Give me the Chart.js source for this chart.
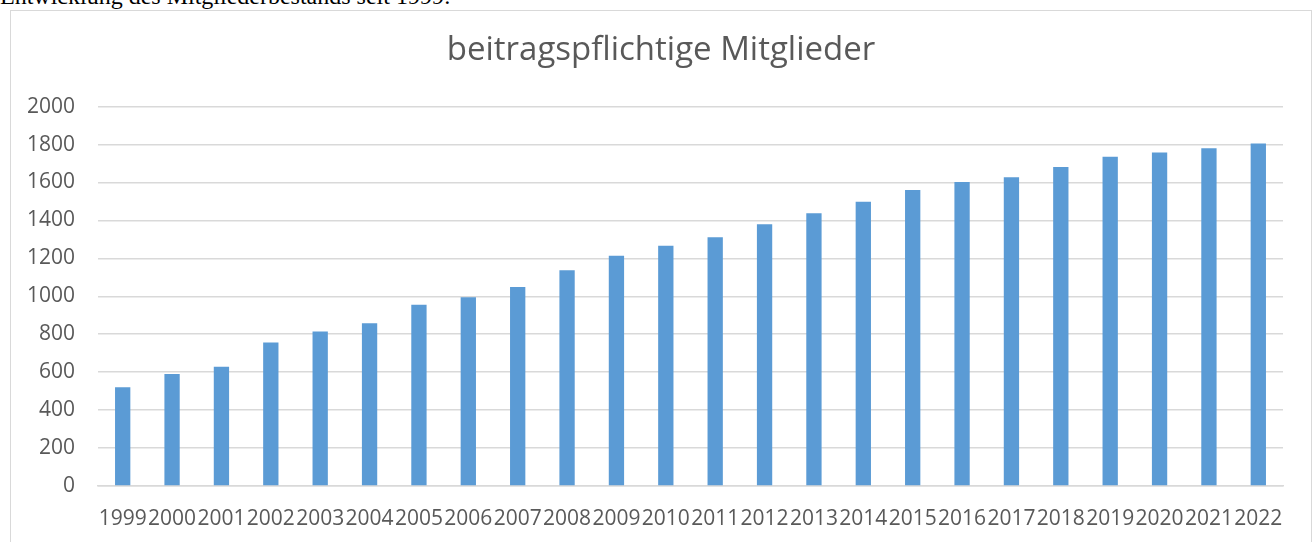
<!DOCTYPE html>
<html>
<head>
<meta charset="utf-8">
<script src="https://cdn.jsdelivr.net/npm/chart.js@4"></script>
<style>
  html, body { margin: 0; padding: 0; background: #fff; overflow: hidden; }
  body { width: 1315px; height: 542px; position: relative; }
  .intro {
    position: absolute; left: 0; top: -16px;
    font: 24px/24px "Liberation Serif", "Times New Roman", serif;
    color: #000; white-space: nowrap;
  }
  .box {
    position: absolute; left: 10px; top: 10px;
    width: 1300px; height: 540px;
    border: 1px solid #d9d9d9;
  }
  .box canvas { display: block; }
</style>
</head>
<body>
<div class="intro">Entwicklung des Mitgliederbestands seit 1999:</div>
<div class="box"><canvas id="chart" width="1300" height="531"></canvas></div>
<script>
// Jahre und beitragspflichtige Mitglieder
const years = ['1999', '2000', '2001', '2002', '2003', '2004', '2005', '2006',
  '2007', '2008', '2009', '2010', '2011', '2012', '2013', '2014', '2015',
  '2016', '2017', '2018', '2019', '2020', '2021', '2022']
const members = [520, 590, 628, 756, 814, 858, 955, 995, 1049, 1137, 1214, 1267,
  1311, 1380, 1438, 1499, 1561, 1603, 1628, 1682, 1735, 1758, 1780, 1805]
const yTicks = [0, 200, 400, 600, 800, 1000, 1200, 1400, 1600, 1800, 2000]

const textColor = '#595959'
const gridColor = '#d9d9d9'
const font = 'Open Sans'

const ctx = document.getElementById('chart').getContext('2d')
new Chart(ctx, {
  type: 'bar',
  data: {
    labels: years,
    datasets: [{
      label: 'beitragspflichtige Mitglieder',
      data: members,
      backgroundColor: '#5b9bd5',
      barPercentage: 0.31,
      categoryPercentage: 1
    }]
  },
  options: {
    responsive: false,
    animation: false,
    layout: { padding: { left: 0, right: 0, top: 0, bottom: 12 } },
    plugins: {
      legend: { display: false },
      tooltip: { enabled: false },
      title: {
        display: true,
        text: 'beitragspflichtige Mitglieder',
        color: textColor,
        font: { family: font, size: 33, weight: 'normal' },
        padding: { top: 20, bottom: 36 }
      }
    },
    scales: {
      x: {
        afterFit: scale => { scale.height = 44 },
        grid: { display: false, drawTicks: false },
        border: { display: true, color: gridColor, width: 1.5 },
        ticks: {
          color: textColor,
          font: { family: font, size: 21 },
          padding: 20,
          autoSkip: false,
          maxRotation: 0,
          minRotation: 0
        }
      },
      y: {
        min: 0,
        max: 2000,
        afterBuildTicks: scale => {
          scale.ticks = yTicks.map(v => ({ value: v }))
        },
        afterFit: scale => { scale.width = 87 },
        grid: { color: gridColor, lineWidth: 1.5, drawTicks: false },
        border: { display: false },
        ticks: {
          color: textColor,
          font: { family: font, size: 21 },
          padding: 23,
          callback: value => String(value)
        }
      },
      // leerer Rand rechts, damit der Titel mittig über dem Rahmen bleibt
      yRight: {
        position: 'right',
        min: 0,
        max: 2000,
        afterFit: scale => { scale.width = 28 },
        grid: { display: false, drawTicks: false },
        border: { display: false },
        ticks: { display: false }
      }
    }
  }
})
</script>
</body>
</html>
